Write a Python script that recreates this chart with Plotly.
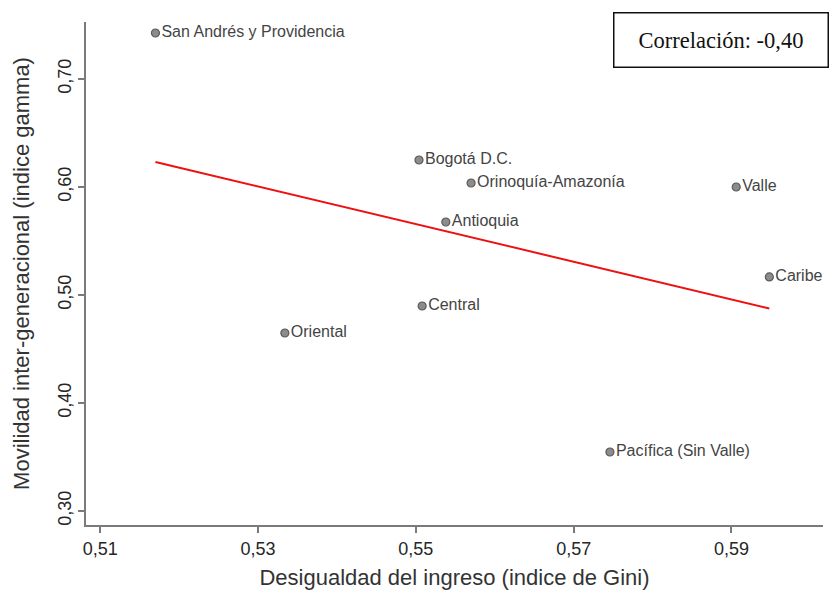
import numpy as np
import plotly.graph_objects as go

regiones = ["San Andrés y Providencia", "Bogotá D.C.", "Orinoquía-Amazonía", "Antioquia",
            "Valle", "Caribe", "Central", "Oriental", "Pacífica (Sin Valle)"]
gini = [0.517, 0.5504, 0.557, 0.5538, 0.5906, 0.5948, 0.5508, 0.5334, 0.5746]
gamma = [0.7426, 0.625, 0.6037, 0.5676, 0.600, 0.5167, 0.4898, 0.4648, 0.3546]

x_ticks = [0.51, 0.53, 0.55, 0.57, 0.59]
x_ticklabels = ["0,51", "0,53", "0,55", "0,57", "0,59"]
y_ticks = [0.30, 0.40, 0.50, 0.60, 0.70]
y_ticklabels = ["0,30", "0,40", "0,50", "0,60", "0,70"]

xa = np.array(gini)
ya = np.array(gamma)
slope, intercept = np.polyfit(xa, ya, 1)
r = np.corrcoef(xa, ya)[0, 1]
fit_x = [xa.min(), xa.max()]
fit_y = [slope * v + intercept for v in fit_x]

fig = go.Figure()
fig.add_trace(go.Scatter(
    x=fit_x, y=fit_y, mode="lines",
    line=dict(color="#ee1111", width=2), hoverinfo="skip", showlegend=False))
fig.add_trace(go.Scatter(
    x=gini, y=gamma, mode="markers+text", text=regiones,
    textposition="middle right", cliponaxis=False,
    textfont=dict(family="Liberation Sans, Arial", size=16, color="#444444"),
    marker=dict(size=8, color="#8c8c8c", line=dict(color="#5a5a5a", width=1.2)),
    showlegend=False))

corr_txt = "Correlación: " + f"{r:.2f}".replace(".", ",")
fig.add_annotation(
    xref="paper", yref="paper", x=0.861, y=0.965, xanchor="center", yanchor="middle",
    text=corr_txt, showarrow=False,
    font=dict(family="Liberation Serif, Times New Roman", size=22.5, color="#111111"),
    bordercolor="#111111", borderwidth=1.5, borderpad=1, bgcolor="white",
    width=211, height=51)

axis_common = dict(
    showgrid=False, zeroline=False, showline=True, linecolor="#7a7a7a", linewidth=2,
    ticks="outside", ticklen=6, tickwidth=1.5, tickcolor="#7a7a7a",
    tickfont=dict(family="Liberation Sans, Arial", size=18, color="#262626"),
    mirror=False, automargin=False)

fig.update_layout(
    width=830, height=596,
    margin=dict(l=86, r=7, t=22, b=71),
    paper_bgcolor="white", plot_bgcolor="white",
    xaxis=dict(range=[0.5082, 0.6016], tickvals=x_ticks, ticktext=x_ticklabels,
               title=dict(text="Desigualdad del ingreso (indice de Gini)",
                          font=dict(family="Liberation Sans, Arial", size=22, color="#333333"),
                          standoff=12),
               **axis_common),
    yaxis=dict(range=[0.287, 0.7528], tickvals=y_ticks, ticktext=y_ticklabels,
               tickangle=-90,
               title=dict(text="Movilidad inter-generacional (indice gamma)",
                          font=dict(family="Liberation Sans, Arial", size=22, color="#333333"),
                          standoff=19),
               **axis_common),
)

fig.write_html("out.html", config={"displayModeBar": False},
               post_script="document.body.style.margin='0';")
